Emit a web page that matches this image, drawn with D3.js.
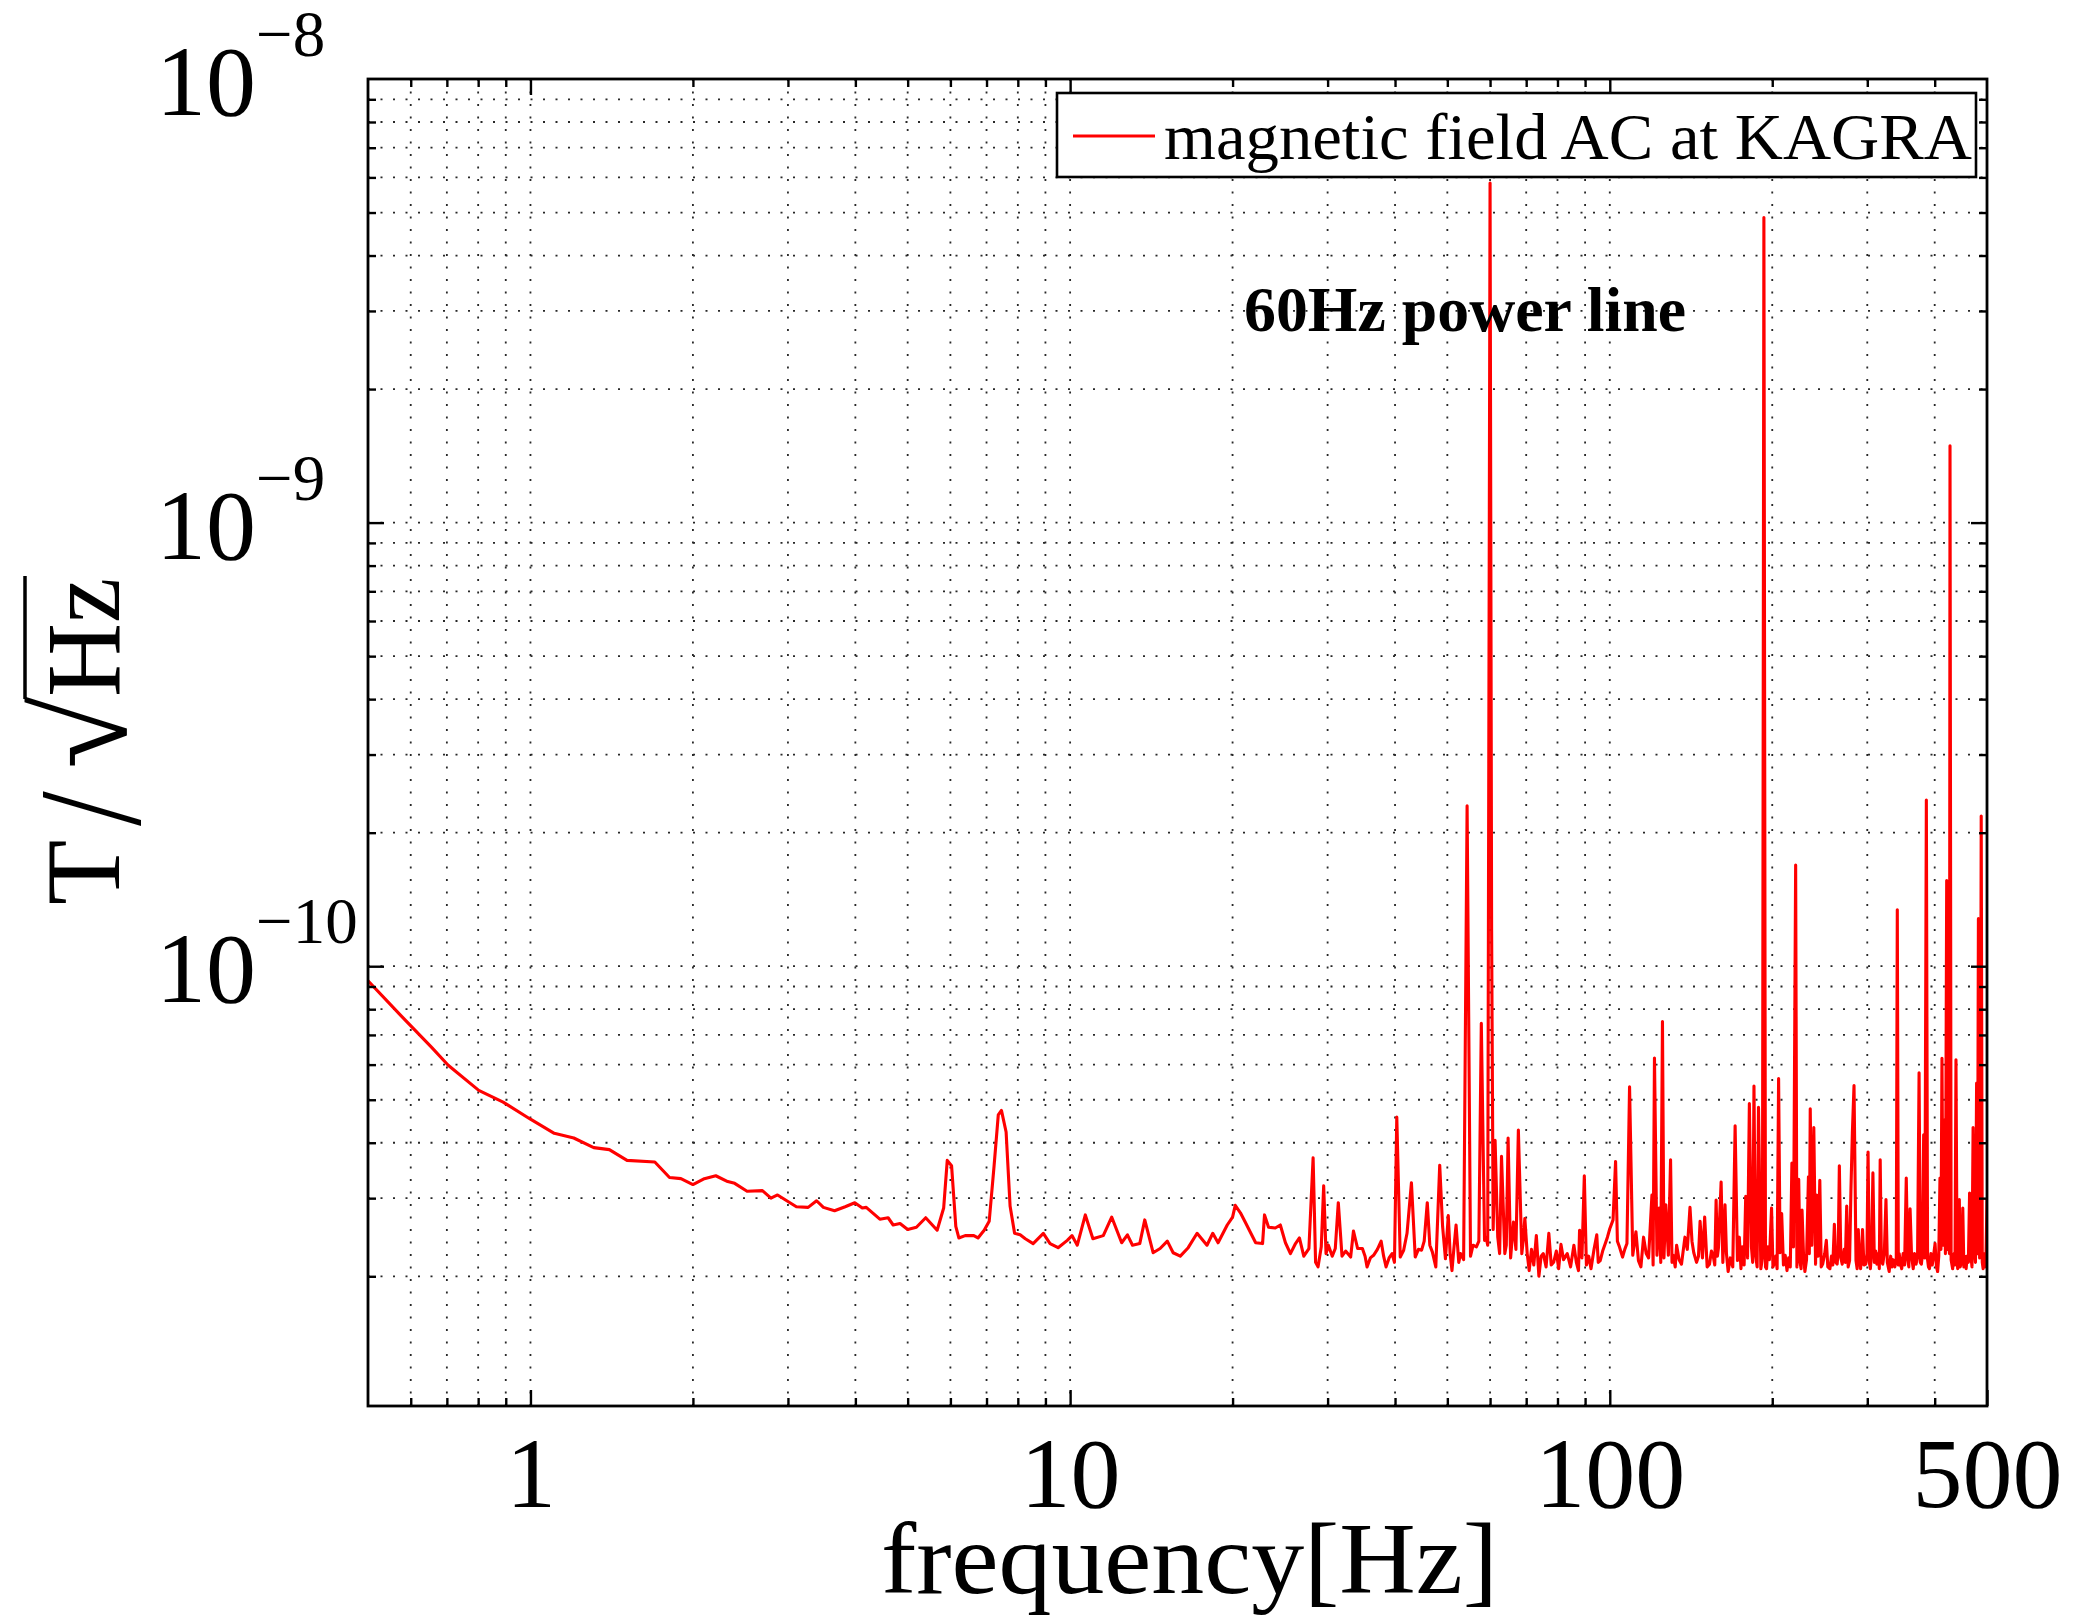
<!DOCTYPE html>
<html>
<head>
<meta charset="utf-8">
<script src="https://cdn.jsdelivr.net/npm/d3@7"></script>
<style>
  body { margin: 0; background: #fff; }
  text { font-family: "Liberation Serif", "Times New Roman", serif; }
</style>
</head>
<body>
<div id="chart"></div>
<script>
// amplitudes below are in units of 1e-11 T/sqrt(Hz), frequencies in Hz
const AMP_UNIT = 1e-11;

// 0.5 - 7.7 Hz, falling part of the spectrum
const slopeBand = [[0.5,9.27],[0.576,7.73],[0.656,6.56],[0.704,5.98],[0.802,5.25],[0.89,4.94],[1.0,4.52],[1.107,4.20],[1.203,4.10],[1.31,3.90],[1.40,3.86],[1.51,3.65],[1.70,3.62],[1.81,3.34],[1.90,3.32],[2.0,3.22],[2.10,3.32],[2.205,3.37],[2.32,3.27],[2.39,3.24],[2.52,3.11],[2.69,3.12],[2.79,3.00],[2.87,3.05],[3.11,2.87],[3.27,2.86],[3.39,2.96],[3.49,2.86],[3.66,2.81],[3.83,2.87],[3.99,2.93],[4.12,2.85],[4.19,2.86],[4.44,2.69],[4.60,2.71],[4.70,2.61],[4.84,2.63],[5.00,2.55],[5.19,2.58],[5.40,2.71],[5.67,2.54],[5.83,2.85],[5.92,3.65],[6.03,3.55],[6.14,2.59],[6.22,2.44],[6.39,2.47],[6.63,2.47],[6.75,2.44],[6.93,2.54],[7.08,2.66],[7.23,3.55],[7.36,4.62],[7.46,4.73],[7.61,4.23],[7.74,2.88]];

// 7.8 - 26.6 Hz
const midBand = [[7.89,2.50],[8.08,2.48],[8.26,2.43],[8.54,2.37],[8.92,2.50],[9.18,2.37],[9.50,2.32],[9.88,2.41],[10.08,2.47],[10.31,2.35],[10.67,2.75],[11.02,2.43],[11.52,2.47],[11.94,2.72],[12.46,2.38],[12.77,2.48],[13.05,2.35],[13.46,2.37],[13.75,2.68],[14.25,2.26],[14.68,2.31],[15.14,2.40],[15.52,2.26],[16.0,2.22],[16.55,2.32],[17.19,2.50],[17.93,2.35],[18.38,2.50],[18.8,2.38],[19.55,2.61],[20.0,2.72],[20.23,2.89],[20.68,2.78],[21.14,2.64],[22.07,2.38],[22.73,2.37],[22.92,2.75],[23.32,2.58],[24.0,2.57],[24.52,2.61],[25.06,2.38],[25.6,2.25],[26.16,2.37],[26.6,2.44]];

// 27 - 96 Hz noise floor
const powerBand = [[27.1,2.22],[27.7,2.31],[28.5,2.15],[28.8,2.10],[29.2,2.33],[29.8,2.25],[30.1,2.35],[30.6,2.22],[31.0,2.31],[31.9,2.22],[32.4,2.28],[33.1,2.21],[33.5,2.53],[34.1,2.31],[34.8,2.31],[35.2,2.22],[35.5,2.10],[36.0,2.20],[36.5,2.23],[37.1,2.30],[37.7,2.40],[38.1,2.22],[38.5,2.10],[39.0,2.20],[39.5,2.25],[39.9,2.15],[40.9,2.21],[41.5,2.29],[42.1,2.50],[43.6,2.21],[44.2,2.30],[44.8,2.29],[45.3,2.40],[46.4,2.35],[46.9,2.27],[47.6,2.10],[49.0,2.59],[49.6,2.19],[50.6,2.25],[51.0,2.06],[51.4,2.30],[52.5,2.15],[52.9,2.25],[53.6,2.18],[55.2,2.22],[55.8,2.35],[56.6,2.33],[57.2,2.40],[58.6,2.41],[59.0,2.45],[59.4,2.35],[60.8,2.55],[62.0,2.45],[62.5,2.25],[63.9,2.25],[64.3,2.35],[65.5,2.20],[66.3,2.65],[67.0,2.30],[68.7,2.25],[69.1,2.40],[70.3,2.25],[70.9,2.06],[71.6,2.30],[72.3,2.12],[73.1,2.47],[73.9,2.00],[74.6,2.22],[75.3,2.25],[76.2,2.10],[77.1,2.50],[77.9,2.12],[78.7,2.15],[79.6,2.28],[80.4,2.08],[81.2,2.36],[82.1,2.18],[83.4,2.25],[84.6,2.10],[85.8,2.35],[86.7,2.15],[87.5,2.06],[87.9,2.54],[88.8,2.20],[90.5,2.12],[91.4,2.22],[92.3,2.08],[93.5,2.30],[94.6,2.48],[95.2,2.15]];

// 96 - 500 Hz noise floor
const highBand = [[96.0,2.17],[97.0,2.28],[98.1,2.37],[99.0,2.45],[100,2.56],[101.4,2.68],[103.3,2.40],[104.2,2.33],[105.6,2.21],[106.6,2.30],[107.6,2.37],[110.3,2.23],[113.0,2.17],[114.2,2.10],[116.8,2.25],[118.0,2.20],[120.3,2.12],[122.3,2.23],[124.3,2.15],[126.0,2.20],[128.4,2.23],[130.4,2.15],[131.1,2.23],[132.2,2.10],[134.4,2.18],[135.8,2.13],[137.8,2.45],[139.2,2.30],[142.0,2.40],[143.1,2.26],[144.8,2.15],[146.0,2.22],[148.5,2.20],[151.5,2.10],[153,2.13],[154.3,2.28],[155.4,2.23],[156.5,2.12],[158.3,2.22],[159.0,2.32],[162.0,2.15],[164.5,2.25],[165.7,2.05],[167.2,2.20],[169.0,2.10],[172.4,2.17],[175.0,2.08],[176.1,2.33],[177.4,2.12],[180.0,2.20],[183.0,2.33],[184.0,2.15],[186.1,2.26],[187.5,2.10],[190.5,2.08],[191.8,2.20],[194.3,2.10],[195.2,2.08],[197.6,2.18],[200.6,2.10],[201.5,2.13],[203.0,2.22],[204.2,2.08],[206.8,2.26],[209.8,2.12],[211.4,2.23],[213.0,2.06],[214.5,2.20],[216.0,2.10],[219.0,2.33],[222.2,2.10],[225.2,2.15],[226.2,2.08],[228.5,2.25],[229.9,2.05],[231.5,2.18],[234.3,2.25],[236.8,2.35],[240.6,2.13],[243.2,2.22],[246.5,2.10],[248,2.13],[250.2,2.25],[253.5,2.10],[255.8,2.08],[257.5,2.22],[259.0,2.12],[262.2,2.15],[263.8,2.13],[265.0,2.28],[268.0,2.20],[269.6,2.13],[271.8,2.30],[273.2,2.15],[276.5,2.10],[278.2,2.17],[285.9,2.17],[287.3,2.08],[290.0,2.22],[291.6,2.08],[292.8,2.25],[295.7,2.12],[298.1,2.13],[299.6,2.25],[302.6,2.15],[304,2.08],[305.5,2.25],[309.2,2.15],[311.0,2.28],[312.5,2.13],[314.5,2.25],[315.8,2.08],[318.6,2.18],[320.4,2.13],[322.6,2.25],[326.8,2.15],[329.4,2.05],[331.5,2.22],[333.2,2.10],[335,2.18],[337.5,2.10],[339.5,2.20],[342.5,2.12],[343.8,2.25],[345.6,2.13],[347.5,2.08],[349.6,2.25],[351.8,2.12],[356.5,2.18],[358.2,2.10],[362.4,2.22],[365,2.08],[367.0,2.25],[369.4,2.13],[371.8,2.22],[376.1,2.15],[377.9,2.13],[379.7,2.25],[383.5,2.20],[388.0,2.18],[389.5,2.10],[391.2,2.08],[393.6,2.25],[395.8,2.12],[398.0,2.22],[403.0,2.10],[405,2.05],[407.0,2.22],[410.8,2.30],[414.5,2.35],[418.7,2.25],[422.0,2.30],[424.0,2.40],[426.0,2.25],[429.0,2.18],[431.8,2.08],[434.6,2.25],[436.2,2.12],[440.0,2.20],[441.2,2.08],[442.6,2.25],[446.0,2.10],[447.6,2.13],[449.2,2.25],[453.0,2.10],[455.1,2.22],[457.4,2.08],[459.5,2.22],[461.8,2.15],[466.5,2.25],[469.0,2.10],[473.5,2.30],[476.0,2.15],[480.1,2.25],[484.5,2.20],[486.0,2.30],[490.0,2.15],[491.8,2.08],[493.7,2.13],[495.5,2.25],[497.6,2.10],[500,3.0]];

// narrow spectral lines (frequency, peak amplitude)
const spectralLines = [[28.2,3.70],[29.5,3.20],[31.4,2.93],[40.3,4.57],[42.9,3.25],[45.9,2.93],[48.4,3.56],[50.2,2.74],[51.9,2.61],[54.4,23.0],[57.8,7.44],[60.0,583],[60.4,12.0],[61.3,4.05],[63.0,3.73],[64.8,4.10],[67.7,4.27],[69.6,2.70],[89.7,3.37],[102.5,3.63],[108.8,5.35],[111.8,2.52],[115.5,2.45],[119.7,3.05],[121.0,6.21],[123.5,2.85],[125.2,7.50],[127.0,2.90],[129.6,3.66],[133.0,2.35],[140.8,2.86],[147.0,2.66],[149.9,2.72],[157.4,2.97],[160.8,3.26],[163.5,2.90],[170.7,4.37],[173.8,2.45],[178.6,3.03],[181.4,4.90],[185.0,5.37],[188.6,4.81],[193.0,487],[196.4,2.33],[199.4,2.85],[205.5,5.58],[208.2,2.77],[217.5,3.60],[221.0,16.9],[223.9,3.31],[227.1,2.82],[233.4,3.35],[235.2,4.77],[238.8,4.33],[241.7,3.05],[245.0,3.29],[251.9,2.41],[260.7,2.62],[266.3,3.55],[274.8,2.88],[279.8,3.13],[281.5,4.20],[283.5,5.38],[288.7,2.55],[294.0,2.55],[301.0,3.81],[307.3,3.42],[317.0,3.66],[324.9,2.98],[341.0,13.4],[354.3,3.33],[360.1,2.84],[374.2,5.75],[381.6,4.17],[386.0,23.7],[400.6,2.37],[409.1,3.33],[412.6,6.20],[416.6,4.50],[421.0,15.6],[427.0,149],[438.0,6.15],[444.3,2.98],[450.9,2.85],[464.2,3.08],[471.2,4.33],[478.3,5.45],[482.0,12.8],[487.8,21.8]];

const xTickLabels = [1, 10, 100, 500];
const yTickExponents = [-8, -9, -10];
const legendLabel = "magnetic field AC at KAGRA";
const noteLabel = "60Hz power line";

const width = 2080, height = 1619;
const plot = {left: 368, right: 1987, top: 79, bottom: 1406};

const svg = d3.select("#chart").append("svg")
    .attr("width", width).attr("height", height)
    .style("display", "block");

svg.append("rect").attr("width", width).attr("height", height).attr("fill", "#fff");

const x = d3.scaleLog().domain([0.5, 500]).range([plot.left, plot.right]);
const y = d3.scaleLog().domain([1.02e-11, 1e-8]).range([plot.bottom, plot.top]);

const isDecade = v => Math.abs(Math.log10(v) - Math.round(Math.log10(v))) < 1e-6;
const xGrid = x.ticks().filter(v => v > 0.5001 && v < 499.9);
const yGrid = y.ticks().filter(v => v > 1.03e-11 && v < 0.999e-8);

// dotted grid, major and minor alike
const grid = svg.append("g").attr("stroke", "#111").attr("stroke-width", 1.8)
    .attr("stroke-dasharray", "2,10.5").attr("opacity", 0.9);
grid.selectAll(".gx").data(xGrid).join("line")
    .attr("x1", d => x(d)).attr("x2", d => x(d))
    .attr("y1", plot.top).attr("y2", plot.bottom);
grid.selectAll(".gy").data(yGrid).join("line")
    .attr("y1", d => y(d)).attr("y2", d => y(d))
    .attr("x1", plot.left).attr("x2", plot.right);

// spectrum
const series = [...slopeBand, ...midBand, ...powerBand, ...highBand, ...spectralLines]
    .sort((a, b) => a[0] - b[0]);

svg.append("clipPath").attr("id", "clip").append("rect")
    .attr("x", plot.left).attr("y", plot.top)
    .attr("width", plot.right - plot.left).attr("height", plot.bottom - plot.top);

svg.append("path")
    .datum(series)
    .attr("clip-path", "url(#clip)")
    .attr("fill", "none")
    .attr("stroke", "#ff0000")
    .attr("stroke-width", 3.1)
    .attr("stroke-linejoin", "round")
    .attr("d", d3.line().x(d => x(d[0])).y(d => y(d[1] * AMP_UNIT)));

// ticks on all four sides, pointing inwards
const xMinor = xGrid.filter(v => !isDecade(v));
const xMajor = xGrid.filter(isDecade);
const yMinor = yGrid.filter(v => !isDecade(v));
const yMajor = yGrid.filter(isDecade);

function tickAxis(axis, tx, ty) {
    const g = svg.append("g").attr("transform", `translate(${tx},${ty})`).call(axis);
    g.select(".domain").remove();
    g.selectAll(".tick line").attr("stroke", "#000").attr("stroke-width", 2.4);
    return g;
}
tickAxis(d3.axisBottom(x).tickValues(xMinor).tickSize(-8).tickFormat(""), 0, plot.bottom);
tickAxis(d3.axisTop(x).tickValues(xMinor).tickSize(-8).tickFormat(""), 0, plot.top);
tickAxis(d3.axisTop(x).tickValues(xMajor).tickSize(-16).tickFormat(""), 0, plot.top);
tickAxis(d3.axisLeft(y).tickValues(yMinor).tickSize(-8).tickFormat(""), plot.left, 0);
tickAxis(d3.axisLeft(y).tickValues(yMajor).tickSize(-16).tickFormat(""), plot.left, 0);
tickAxis(d3.axisRight(y).tickValues(yMinor).tickSize(-8).tickFormat(""), plot.right, 0);
tickAxis(d3.axisRight(y).tickValues(yMajor).tickSize(-16).tickFormat(""), plot.right, 0);

const xAxis = tickAxis(d3.axisBottom(x).tickValues(xTickLabels).tickSize(-16).tickPadding(30)
    .tickFormat(d3.format("d")), 0, plot.bottom);
xAxis.selectAll("text")
    .attr("font-family", "Liberation Serif")
    .attr("font-size", 100)
    .attr("fill", "#000");

// box
svg.append("rect")
    .attr("x", plot.left).attr("y", plot.top)
    .attr("width", plot.right - plot.left).attr("height", plot.bottom - plot.top)
    .attr("fill", "none").attr("stroke", "#000").attr("stroke-width", 2.8);

// y tick labels 10^e
const yLab = svg.append("g");
yTickExponents.forEach(function (e) {
    const ty = y(Math.pow(10, e));
    yLab.append("text").attr("x", 256).attr("y", ty + 36)
        .attr("text-anchor", "end").attr("font-size", 100).text("10");
    yLab.append("text").attr("x", 256).attr("y", ty - 23)
        .attr("font-size", 65).text("\u2212" + (-e));
});

// x label
svg.append("text")
    .attr("x", 881).attr("y", 1593)
    .attr("font-size", 102)
    .attr("textLength", 617).attr("lengthAdjust", "spacingAndGlyphs")
    .text("frequency[Hz]");

// y label, pieces fitted to their ink boxes
const measure = document.createElement("canvas").getContext("2d");
function fitInk(g, str, box, weight) {
    const size = 100;
    measure.font = (weight || "normal") + " " + size + "px 'Liberation Serif'";
    const m = measure.measureText(str);
    const ix0 = -m.actualBoundingBoxLeft, ix1 = m.actualBoundingBoxRight;
    const iy0 = -m.actualBoundingBoxAscent, iy1 = m.actualBoundingBoxDescent;
    const sx = (box[2] - box[0]) / (ix1 - ix0);
    const sy = (box[3] - box[1]) / (iy1 - iy0);
    g.append("text")
        .attr("font-size", size)
        .attr("font-weight", weight || "normal")
        .attr("transform", `translate(${box[0] - ix0 * sx},${box[1] - iy0 * sy}) scale(${sx},${sy})`)
        .text(str);
}
const yTitle = svg.append("g").attr("transform", "translate(120,741) rotate(-90)");
fitInk(yTitle, "T", [-163, -70, -100, 0]);
fitInk(yTitle, "/", [-85, -75, -50, 23]);
fitInk(yTitle, "\u221A", [-25, -97, 45, 7]);
fitInk(yTitle, "Hz", [46, -70, 161, 0]);
yTitle.append("line").attr("x1", 42).attr("x2", 165).attr("y1", -95).attr("y2", -95)
    .attr("stroke", "#000").attr("stroke-width", 3.5);

// annotation
svg.append("text")
    .attr("x", 1244).attr("y", 331)
    .attr("font-size", 63).attr("font-weight", "bold")
    .attr("textLength", 442).attr("lengthAdjust", "spacingAndGlyphs")
    .text(noteLabel);

// legend
const legend = svg.append("g");
legend.append("rect")
    .attr("x", 1057).attr("y", 93).attr("width", 919).attr("height", 84)
    .attr("fill", "#fff").attr("stroke", "#000").attr("stroke-width", 2.6);
legend.append("line")
    .attr("x1", 1073).attr("x2", 1155).attr("y1", 136).attr("y2", 136)
    .attr("stroke", "#ff0000").attr("stroke-width", 3.1);
legend.append("text")
    .attr("x", 1164).attr("y", 159)
    .attr("font-size", 66)
    .attr("textLength", 808).attr("lengthAdjust", "spacingAndGlyphs")
    .text(legendLabel);
</script>
</body>
</html>
